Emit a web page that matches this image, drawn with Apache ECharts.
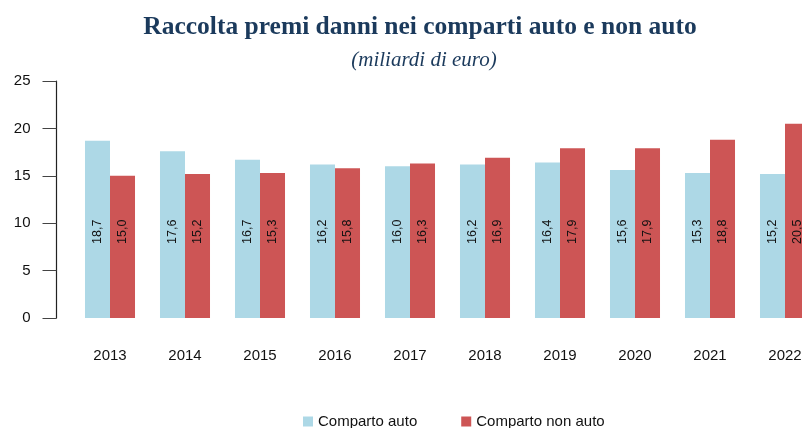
<!DOCTYPE html>
<html>
<head>
<meta charset="utf-8">
<title>Raccolta premi danni</title>
<script src="https://cdn.jsdelivr.net/npm/echarts@6/dist/echarts.min.js"></script>
<style>
  html, body { margin: 0; padding: 0; background: #fff; overflow: hidden; }
  /* il grafico originale è tagliato a destra: il contenitore è più largo della finestra */
  #chart { width: 823px; height: 428px; }
</style>
</head>
<body>
<div id="chart"></div>
<script>
// dati (miliardi di euro)
const anni = ["2013", "2014", "2015", "2016", "2017", "2018", "2019", "2020", "2021", "2022"];
const compartoAuto = [18.7, 17.6, 16.7, 16.2, 16.0, 16.2, 16.4, 15.6, 15.3, 15.2];
const compartoNonAuto = [15.0, 15.2, 15.3, 15.8, 16.3, 16.9, 17.9, 17.9, 18.8, 20.5];
const yTicks = [0, 5, 10, 15, 20, 25];

const COLORS = { auto: "#ADD8E6", nonAuto: "#CD5555", title: "#1B3A5C" };

const chart = echarts.init(document.getElementById("chart"), null, { renderer: "canvas" });

// etichetta verticale alla stessa altezza per tutte le barre
function barLabel() {
  return {
    show: true,
    position: "insideBottom",
    distance: 74,
    rotate: 90,
    align: "left",
    verticalAlign: "middle",
    fontFamily: "Liberation Sans, Arial, sans-serif",
    fontSize: 12.5,
    color: "#111",
    formatter: p => p.value.toFixed(1).replace(".", ","),
  };
}

chart.setOption({
  animation: false,
  title: [
    {
      text: "Raccolta premi danni nei comparti auto e non auto",
      left: 415, top: 9, textAlign: "center",
      textStyle: { fontFamily: "Liberation Serif, serif", fontWeight: "bold", fontSize: 25.5, color: COLORS.title },
    },
    {
      text: "(miliardi di euro)",
      left: 419, top: 45, textAlign: "center",
      textStyle: { fontFamily: "Liberation Serif, serif", fontStyle: "italic", fontWeight: "normal", fontSize: 21, color: COLORS.title },
    },
  ],
  legend: {
    left: 303, top: 414, padding: 0,
    itemWidth: 10, itemHeight: 10, itemGap: 44,
    icon: "rect",
    textStyle: { fontFamily: "Liberation Sans, Arial, sans-serif", fontSize: 15, color: "#111" },
    data: ["Comparto auto", "Comparto non auto"],
  },
  grid: { left: 72.5, right: 0.5, top: 81, bottom: 110, containLabel: false },
  xAxis: {
    type: "category",
    data: anni,
    axisLine: { show: false },
    axisTick: { show: false },
    axisLabel: { margin: 30, fontFamily: "Liberation Sans, Arial, sans-serif", fontSize: 15, color: "#111" },
  },
  yAxis: {
    type: "value",
    min: yTicks[0], max: yTicks[yTicks.length - 1], interval: 5,
    offset: 16,
    axisLine: { show: true, lineStyle: { color: "#222", width: 1.2 } },
    axisTick: { show: true, length: 14, lineStyle: { color: "#444" } },
    axisLabel: { margin: 26, fontFamily: "Liberation Sans, Arial, sans-serif", fontSize: 15, color: "#111" },
    splitLine: { show: false },
  },
  series: [
    {
      name: "Comparto auto", type: "bar", data: compartoAuto,
      barGap: "0%", barCategoryGap: "33.3%",
      itemStyle: { color: COLORS.auto },
      label: barLabel(),
    },
    {
      name: "Comparto non auto", type: "bar", data: compartoNonAuto,
      barGap: "0%", barCategoryGap: "33.3%",
      itemStyle: { color: COLORS.nonAuto },
      label: barLabel(),
    },
  ],
});
</script>
</body>
</html>
